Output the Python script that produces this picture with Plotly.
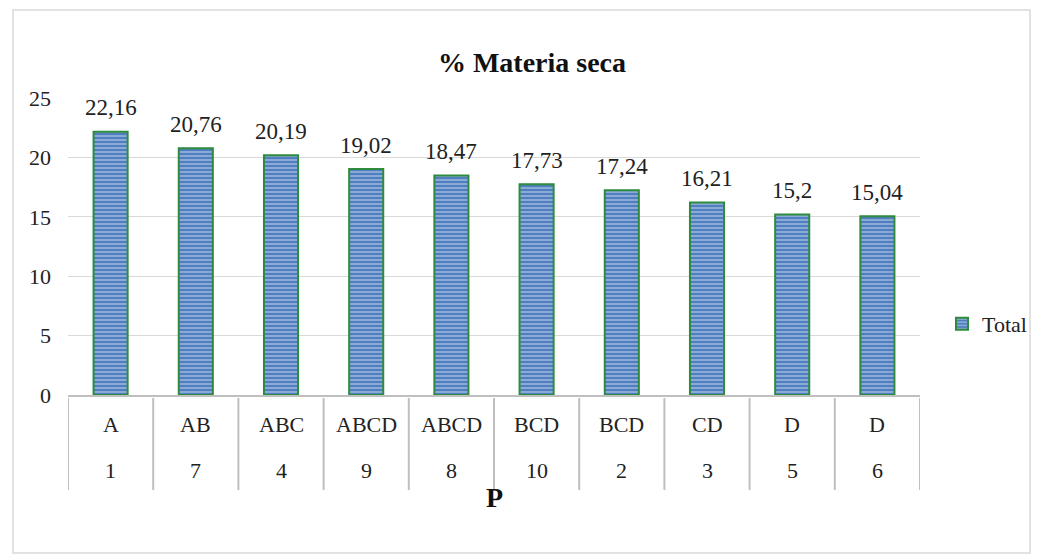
import plotly.graph_objects as go

numbers = ["1", "7", "4", "9", "8", "10", "2", "3", "5", "6"]
letters = ["A", "AB", "ABC", "ABCD", "ABCD", "BCD", "BCD", "CD", "D", "D"]
values = [22.16, 20.76, 20.19, 19.02, 18.47, 17.73, 17.24, 16.21, 15.2, 15.04]
y_ticks = [0, 5, 10, 15, 20, 25]

FONT = "Liberation Serif, Times New Roman, serif"

labels = [str(v).replace(".", ",") for v in values]
positions = list(range(len(numbers)))

fig = go.Figure()
fig.add_trace(go.Bar(
    x=positions, y=values, name="Total",
    width=0.4, hoverinfo="skip",
    marker=dict(
        color="#4f7fc0",
        line=dict(color="#2e8b3e", width=2),
        pattern=dict(shape="-", fgcolor="#e3ebf7", bgcolor="#4f7fc0",
                     size=4, solidity=0.4, fillmode="overlay"),
    ),
))

L, R, T, B = 68, 1041 - 920, 98, 559 - 395
W = 1041 - L - R
H = 559 - T - B

def px_x(px):
    return (px - L) / W

def px_y(py):
    return (559 - B - py) / H

shapes = []
# outer chart border
shapes.append(dict(type="rect", xref="paper", yref="paper",
                   x0=px_x(13), x1=px_x(1030), y0=px_y(553), y1=px_y(10),
                   line=dict(color="#d9d9d9", width=1.5), layer="below"))
# table dividers under category axis
for i in range(len(numbers) + 1):
    shapes.append(dict(type="line", xref="x", yref="paper",
                       x0=i - 0.5, x1=i - 0.5, y0=px_y(398), y1=px_y(490),
                       line=dict(color="#bfbfbf", width=2)))

annotations = []
# data labels above bars
for i, (v, t) in enumerate(zip(values, labels)):
    annotations.append(dict(x=i, xref="x", y=v, yref="y", yanchor="middle",
                            yshift=24, text=t, showarrow=False,
                            font=dict(family=FONT, size=23, color="#222222")))
for i, (n, l) in enumerate(zip(numbers, letters)):
    annotations.append(dict(x=i, xref="x", y=px_y(424), yref="paper",
                            yanchor="middle", text=l, showarrow=False,
                            font=dict(family=FONT, size=22, color="#222222")))
    annotations.append(dict(x=i, xref="x", y=px_y(470), yref="paper",
                            yanchor="middle", text=n, showarrow=False,
                            font=dict(family=FONT, size=22, color="#222222")))
annotations.append(dict(x=0.5, xref="paper", y=px_y(497), yref="paper",
                        yanchor="middle", text="<b>P</b>", showarrow=False,
                        font=dict(family=FONT, size=28, color="#111111")))

fig.update_layout(
    width=1041, height=559,
    margin=dict(l=L, r=R, t=T, b=B, autoexpand=False),
    paper_bgcolor="white", plot_bgcolor="white",
    title=dict(text="<b>% Materia seca</b>", x=0.511, xanchor="center",
               y=1 - 62 / 559, yanchor="middle",
               font=dict(family=FONT, size=28, color="#111111")),
    xaxis=dict(range=[-0.5, len(numbers) - 0.5],
               showticklabels=False, showgrid=False, ticks="", zeroline=False,
               showline=True, linecolor="#bfbfbf", linewidth=2),
    yaxis=dict(range=[0, 25], tickvals=y_ticks, showgrid=True,
               gridcolor="#d9d9d9", gridwidth=1, zeroline=False,
               showline=False, ticks="", ticklabelstandoff=16,
               tickfont=dict(family=FONT, size=22, color="#222222")),
    showlegend=True,
    legend=dict(x=px_x(942), xanchor="left", y=px_y(324), yanchor="middle",
                font=dict(family=FONT, size=22, color="#222222"),
                itemwidth=30, bgcolor="rgba(0,0,0,0)"),
    shapes=shapes, annotations=annotations,
)

fig.write_html("out.html", config={"responsive": False, "displayModeBar": False},
               post_script="document.body.style.margin='0';document.body.style.overflow='hidden';")
